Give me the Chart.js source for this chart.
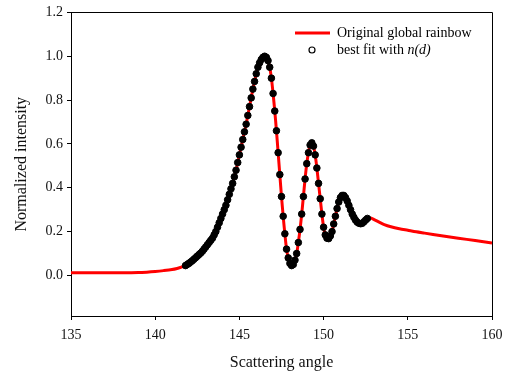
<!DOCTYPE html>
<html><head><meta charset="utf-8">
<script src="https://cdn.jsdelivr.net/npm/chart.js@4"></script>
<style>html,body{margin:0;padding:0;background:#fff}#wrap{width:510px;height:378px}</style>
</head><body><div id="wrap"><canvas id="c" width="510" height="378"></canvas></div>
<script>
// Scattering angle (degrees)
const angles = [
  135,136,137,138,139,139.5,140,140.5,141,141.3,141.6,
  141.8,141.9,142.0,142.1,142.2,142.3,142.4,142.5,142.6,142.7,
  142.8,142.9,143.0,143.1,143.2,143.3,143.4,143.5,143.6,143.7,
  143.8,143.9,144.0,144.1,144.2,144.3,144.4,144.5,144.6,144.7,
  144.8,144.9,145.0,145.1,145.2,145.3,145.4,145.5,145.6,145.7,
  145.8,145.9,146.0,146.1,146.2,146.3,146.4,146.5,146.6,146.7,
  146.8,146.9,147.0,147.1,147.2,147.3,147.4,147.5,147.6,147.7,
  147.8,147.9,148.0,148.1,148.2,148.3,148.4,148.5,148.6,148.7,
  148.8,148.9,149.0,149.1,149.2,149.3,149.4,149.5,149.6,149.7,
  149.8,149.9,150.0,150.1,150.2,150.3,150.4,150.5,150.6,150.7,
  150.8,150.9,151.0,151.1,151.2,151.3,151.4,151.5,151.6,151.7,
  151.8,151.9,152.0,152.1,152.2,152.3,152.4,152.5,152.6,
  152.8,153.0,153.3,153.6,154.0,154.5,155.0,155.5,156.0,157.0,158.0,159.0,160.0
];
// Normalized intensity of the original global rainbow
const intensity = [
  0.012,0.012,0.012,0.012,0.013,0.015,0.018,0.022,0.027,0.032,0.039,
  0.045,0.050,0.055,0.061,0.067,0.074,0.081,0.088,0.095,0.102,
  0.110,0.120,0.130,0.140,0.150,0.160,0.170,0.185,0.200,0.220,
  0.240,0.260,0.280,0.300,0.320,0.345,0.370,0.395,0.420,0.450,
  0.480,0.515,0.550,0.585,0.620,0.655,0.690,0.730,0.770,0.810,
  0.850,0.885,0.920,0.950,0.970,0.985,0.995,1.000,0.995,0.980,
  0.950,0.900,0.830,0.750,0.660,0.560,0.460,0.360,0.270,0.190,
  0.120,0.080,0.055,0.045,0.050,0.070,0.100,0.150,0.210,0.280,
  0.360,0.440,0.510,0.560,0.595,0.605,0.590,0.550,0.490,0.420,
  0.350,0.280,0.220,0.185,0.170,0.168,0.180,0.200,0.235,0.270,
  0.305,0.335,0.355,0.365,0.365,0.355,0.340,0.320,0.300,0.280,
  0.265,0.252,0.243,0.238,0.236,0.238,0.245,0.253,0.260,
  0.262,0.255,0.243,0.232,0.222,0.213,0.206,0.199,0.193,0.181,0.170,0.159,0.148
];
// Angular range covered by the best-fit points
const fitRange = [141.8, 152.6];
const xTicks = [135,140,145,150,155,160];
const yTicks = [0.0,0.2,0.4,0.6,0.8,1.0,1.2];
const seriesNames = ['Original global rainbow','best fit with ','n(d)'];
const axisTitles = ['Scattering angle','Normalized intensity'];

const lineData = angles.map((a,i)=>({x:a,y:intensity[i]}));
const fitData = lineData.filter(p=>p.x>=fitRange[0]-1e-9 && p.x<=fitRange[1]+1e-9);

const FONT = "'Liberation Serif','Times New Roman',serif";

const boxLegend = {
  id:'boxLegend',
  afterDraw(chart){
    const {ctx, chartArea:a} = chart;
    ctx.save();
    ctx.strokeStyle='#000'; ctx.lineWidth=1;
    ctx.beginPath();
    ctx.moveTo(Math.round(a.left)+0.5, Math.round(a.top)+0.5);
    ctx.lineTo(Math.round(a.right)+0.5, Math.round(a.top)+0.5);
    ctx.lineTo(Math.round(a.right)+0.5, Math.round(a.bottom)+0.5);
    ctx.stroke();
    // legend
    ctx.strokeStyle='#ff0000'; ctx.lineWidth=3;
    ctx.beginPath(); ctx.moveTo(295,33); ctx.lineTo(330,33); ctx.stroke();
    ctx.fillStyle='#000'; ctx.font='14px '+FONT; ctx.textBaseline='middle'; ctx.textAlign='left';
    ctx.fillText(seriesNames[0],337,33);
    ctx.beginPath(); ctx.arc(312,50,3,0,Math.PI*2);
    ctx.fillStyle='#fff'; ctx.fill(); ctx.strokeStyle='#000'; ctx.lineWidth=1.2; ctx.stroke();
    ctx.fillStyle='#000';
    ctx.fillText(seriesNames[1],337,50);
    const w = ctx.measureText(seriesNames[1]).width;
    ctx.font='italic 14px '+FONT;
    ctx.fillText(seriesNames[2],337+w,50);
    ctx.restore();
  }
};

new Chart(document.getElementById('c'),{
  type:'scatter',
  data:{datasets:[
    {label:'fit',data:fitData,order:0,showLine:false,pointRadius:3.3,pointBackgroundColor:'#000',pointBorderColor:'#000',pointBorderWidth:1},
    {label:'line',data:lineData,order:1,showLine:true,borderColor:'#ff0000',borderWidth:3,pointRadius:0,tension:0.3,fill:false}
  ]},
  options:{
    responsive:false,animation:false,
    layout:{padding:{top:9,right:18,left:0,bottom:0}},
    plugins:{legend:{display:false},tooltip:{enabled:false}},
    scales:{
      x:{type:'linear',min:135,max:160,
        afterFit(s){s.height=62;},
        afterBuildTicks(s){s.ticks=xTicks.map(v=>({value:v}));},
        ticks:{color:'#111',font:{family:FONT,size:14},padding:7,maxRotation:0,callback:v=>String(v)},
        grid:{display:true,drawOnChartArea:false,drawTicks:true,tickLength:4,color:'#000'},
        border:{display:true,color:'#000',width:1},
        title:{display:true,text:axisTitles[0],color:'#111',font:{family:FONT,size:16},padding:{top:6,bottom:6}}
      },
      y:{type:'linear',min:-0.185,max:1.2,
        afterFit(s){s.width=71;},
        afterBuildTicks(s){s.ticks=yTicks.map(v=>({value:v}));},
        ticks:{color:'#111',font:{family:FONT,size:14},padding:4,callback:v=>Number(v).toFixed(1)},
        grid:{display:true,drawOnChartArea:false,drawTicks:true,tickLength:4,color:'#000'},
        border:{display:true,color:'#000',width:1},
        title:{display:true,text:axisTitles[1],color:'#111',font:{family:FONT,size:16},padding:{top:12,bottom:12}}
      }
    }
  },
  plugins:[boxLegend]
});
</script></body></html>
